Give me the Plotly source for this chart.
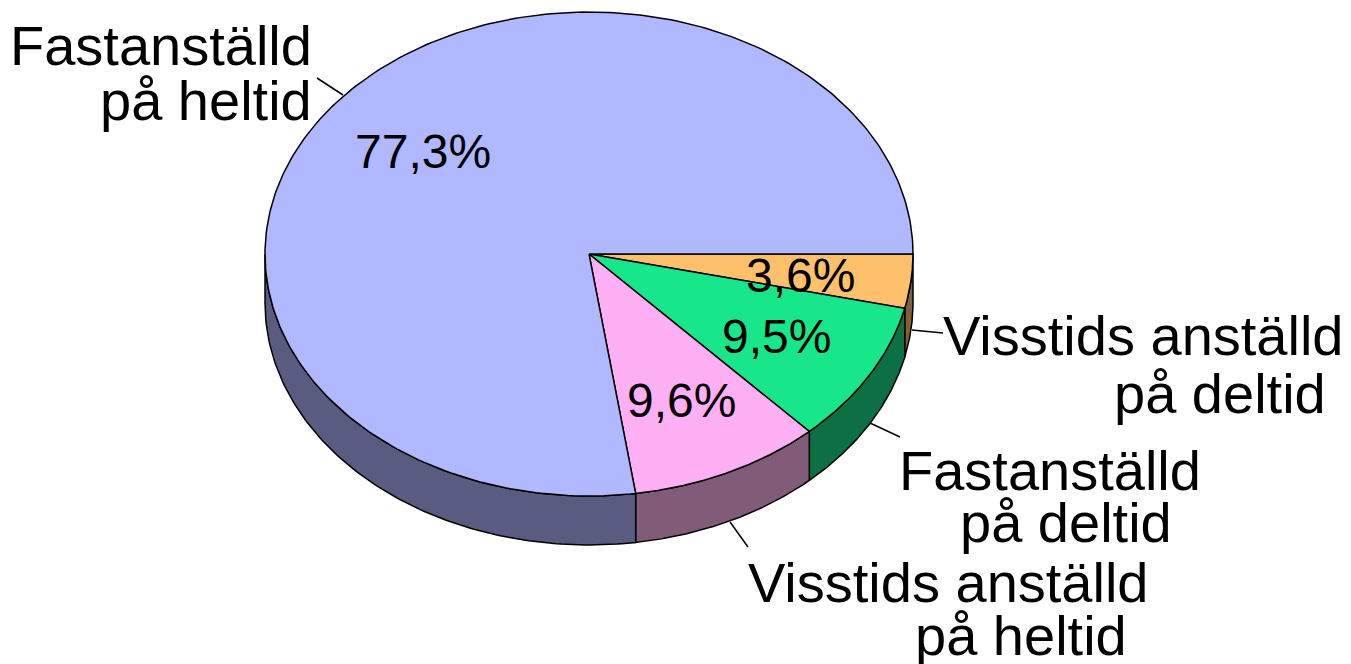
import numpy as np
import plotly.graph_objects as go

categories = ["Visstids anställd på deltid", "Fastanställd på deltid",
              "Visstids anställd på heltid", "Fastanställd på heltid"]
values = [3.6, 9.5, 9.6, 77.3]
pct_labels = ["3,6%", "9,5%", "9,6%", "77,3%"]
top_colors = ["#FFC06C", "#18E68A", "#FFB0F4", "#B0B8FF"]
side_colors = ["#806038", "#0C7044", "#805C78", "#595C80"]

# geometry of the tilted pie (pixel space)
cx, cy, rx, ry, depth = 589.0, 254.0, 324.0, 242.0, 49.0
FONT = "Liberation Sans, Arial, sans-serif"
PAGE_MARGIN = 8  # default body margin of the html page

def pt(theta_deg, dy=0.0):
    t = np.radians(theta_deg)
    return cx + rx * np.cos(t), cy + ry * np.sin(t) + dy

total = sum(values)
bounds = [0.0]
for v in values:
    bounds.append(bounds[-1] + v / total * 360.0)

fig = go.Figure()

# side walls (front half only: 0..180 degrees, clockwise from 3 o'clock)
for i in range(len(values)):
    a0, a1 = max(bounds[i], 0.0), min(bounds[i + 1], 180.0)
    if a1 <= a0:
        continue
    th = np.linspace(a0, a1, 120)
    xt, yt = pt(th)
    xb, yb = pt(th[::-1], depth)
    xs = np.concatenate([xt, xb, xt[:1]])
    ys = np.concatenate([yt, yb, yt[:1]])
    fig.add_trace(go.Scatter(x=xs, y=ys, mode="lines", fill="toself",
                             fillcolor=side_colors[i],
                             line=dict(color="black", width=1.5),
                             hoverinfo="skip", showlegend=False))

# top faces
for i in range(len(values)):
    th = np.linspace(bounds[i], bounds[i + 1], 300)
    xa, ya = pt(th)
    xs = np.concatenate([[cx], xa, [cx]])
    ys = np.concatenate([[cy], ya, [cy]])
    fig.add_trace(go.Scatter(x=xs, y=ys, mode="lines", fill="toself",
                             fillcolor=top_colors[i],
                             line=dict(color="black", width=1.5),
                             hoverinfo="skip", showlegend=False))

# percentage labels
pct_pos = [(800, 275), (776, 336), (681, 400), (423, 151)]
for (x, y), t in zip(pct_pos, pct_labels):
    fig.add_annotation(x=x, y=y, text=t, showarrow=False,
                       font=dict(family=FONT, size=48, color="black"),
                       xanchor="center", yanchor="middle")

# category labels (each line placed separately)
cat_lines = [
    [("Visstids anställd", 1346, 335, "right"), ("på deltid", 1328, 393, "right")],
    [("Fastanställd", 1050, 470, "center"), ("på deltid", 1066, 522, "center")],
    [("Visstids anställd", 948, 582, "center"), ("på heltid", 1021, 635, "center")],
    [("Fastanställd", 314, 45, "right"), ("på heltid", 314, 100, "right")],
]
for lines in cat_lines:
    for t, x, y, anc in lines:
        fig.add_annotation(x=x, y=y, text=t, showarrow=False,
                           font=dict(family=FONT, size=56, color="black"),
                           xanchor=anc, yanchor="middle")

# leader lines
leaders = [((912, 330), (943, 333)), ((870, 423), (900, 437)),
           ((730, 522), (748, 547)), ((343, 95), (317, 78))]
for (x0, y0), (x1, y1) in leaders:
    fig.add_shape(type="line", x0=x0, y0=y0, x1=x1, y1=y1,
                  line=dict(color="black", width=1.5))

W, H = 1351, 664
fig.update_layout(width=W - PAGE_MARGIN, height=H - PAGE_MARGIN,
                  margin=dict(l=0, r=0, t=0, b=0),
                  paper_bgcolor="white", plot_bgcolor="white",
                  xaxis=dict(range=[PAGE_MARGIN, W], visible=False, fixedrange=True),
                  yaxis=dict(range=[H, PAGE_MARGIN], visible=False, fixedrange=True))

fig.write_html("out.html")
